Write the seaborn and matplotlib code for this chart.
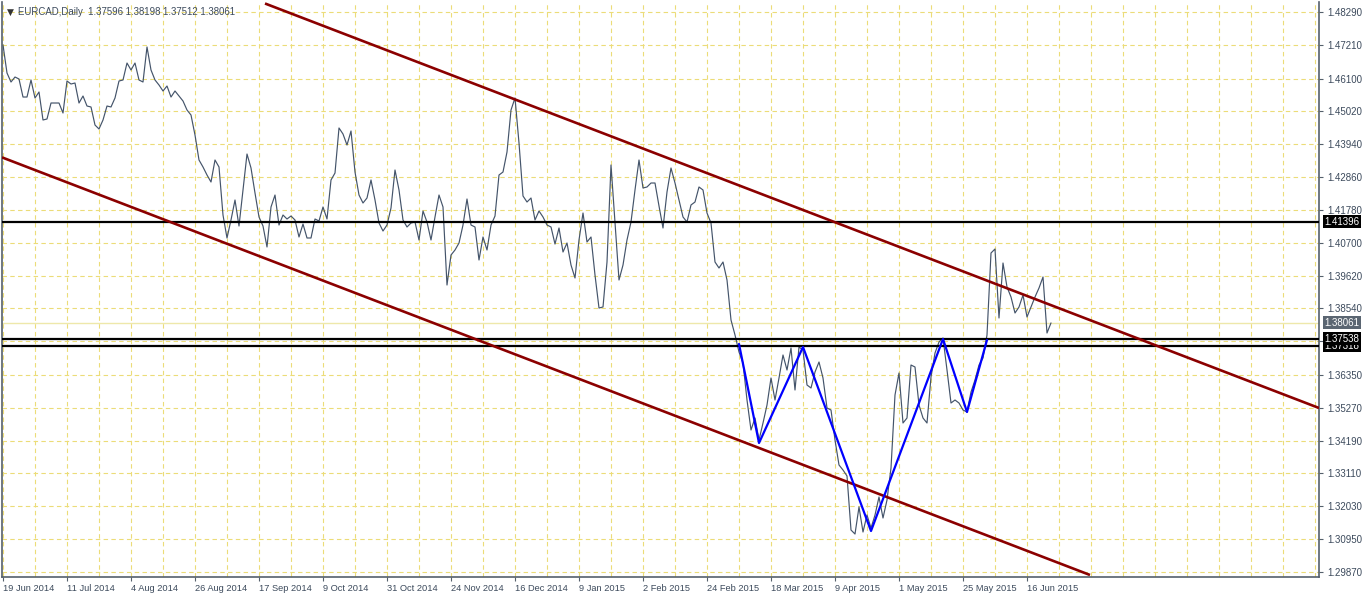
import numpy as np
import pandas as pd
import matplotlib
matplotlib.use("Agg")
import matplotlib.pyplot as plt
import seaborn as sns

# EURCAD daily closes, one per bar (MT4 style, bars are evenly spaced)
close = [
    1.47204, 1.46283, 1.45987, 1.46151, 1.46086, 1.45493, 1.45493, 1.46053, 1.45461, 1.45658,
    1.44737, 1.44770, 1.45296, 1.45296, 1.45296, 1.44967, 1.46020, 1.45921, 1.45954, 1.45296,
    1.45526, 1.45197, 1.45165, 1.44572, 1.44441, 1.44737, 1.45197, 1.45165, 1.45461, 1.46020,
    1.46053, 1.46612, 1.46382, 1.46612, 1.46053, 1.45987, 1.47139, 1.46382, 1.46053, 1.45888,
    1.45691, 1.45855, 1.45493, 1.45691, 1.45526, 1.45362, 1.45066, 1.44901, 1.44243, 1.43421,
    1.43191, 1.42927, 1.42697, 1.43421, 1.43191, 1.41611, 1.40855, 1.41447, 1.42105, 1.41249,
    1.42434, 1.43618, 1.43158, 1.42335, 1.41546, 1.41249, 1.40559, 1.41875, 1.42269, 1.41282,
    1.41611, 1.41480, 1.41578, 1.41447, 1.40888, 1.41315, 1.40855, 1.40855, 1.41480, 1.41414,
    1.41875, 1.41480, 1.42763, 1.42993, 1.44474, 1.44276, 1.43914, 1.44375, 1.43026, 1.42269,
    1.42006, 1.42171, 1.42763, 1.42105, 1.41348, 1.41085, 1.41282, 1.41842, 1.43092, 1.42434,
    1.41447, 1.41217, 1.41348, 1.41381, 1.40789, 1.41743, 1.41381, 1.40789, 1.41546, 1.42269,
    1.41875, 1.39308, 1.40295, 1.40460, 1.40690, 1.41282, 1.42138, 1.41282, 1.41217, 1.40131,
    1.40888, 1.40460, 1.41282, 1.41578, 1.42927, 1.43026, 1.43684, 1.45066, 1.45461, 1.43980,
    1.42237, 1.42039, 1.42171, 1.41447, 1.41743, 1.41546, 1.41282, 1.41217, 1.40657, 1.41184,
    1.40394, 1.40690, 1.39966, 1.39539, 1.40789, 1.41677, 1.40723, 1.40888, 1.39637, 1.38552,
    1.38585, 1.40065, 1.43256, 1.41381, 1.39473, 1.39966, 1.40789, 1.41381, 1.42434, 1.43421,
    1.42500, 1.42533, 1.42664, 1.42664, 1.41908, 1.41184, 1.42368, 1.43158, 1.42664, 1.42105,
    1.41546, 1.41381, 1.41941, 1.42039, 1.42533, 1.42434, 1.41677, 1.41348, 1.40065, 1.39868,
    1.40065, 1.39473, 1.38157, 1.37664, 1.37104, 1.36742, 1.35525, 1.34538, 1.34933, 1.34209,
    1.34768, 1.35360, 1.36249, 1.35525, 1.36249, 1.37006, 1.36512, 1.37236, 1.35854, 1.37269,
    1.37170, 1.36019, 1.35920, 1.36446, 1.36775, 1.36249, 1.35262, 1.35196, 1.34209, 1.33387,
    1.33222, 1.33025, 1.31248, 1.31116, 1.32005, 1.31182, 1.31741, 1.31314, 1.31741, 1.32334,
    1.31643, 1.32235, 1.33288, 1.35689, 1.36413, 1.34768, 1.34933, 1.36676, 1.36611, 1.35360,
    1.34933, 1.34768, 1.36282, 1.37071, 1.37433, 1.37565, 1.36512, 1.35426, 1.35525, 1.35426,
    1.35196, 1.35130, 1.35788, 1.36183, 1.36676, 1.36907, 1.37664, 1.40361, 1.40493, 1.38223,
    1.40032, 1.39243, 1.38914, 1.38387, 1.38585, 1.38979, 1.38256, 1.38585, 1.38914, 1.39210,
    1.39572, 1.37729, 1.38061,
]
bars = np.arange(len(close))

# zigzag pattern (blue)
zz_bar = [184, 189, 200, 217, 235, 241, 246]
zz_price = [1.37368, 1.34110, 1.37269, 1.31215, 1.37532, 1.35130, 1.37499]

# descending channel (dark red)
upper_bar = [65.5, 329]
upper_price = [1.48570, 1.35262]
lower_bar = [-0.25, 271.75]
lower_price = [1.43507, 1.29768]

# horizontal levels
levels = [1.41396, 1.37318, 1.37538]
bid = 1.38061

ytick_values = [1.48290, 1.47210, 1.46100, 1.45020, 1.43940, 1.42860, 1.41780, 1.40700,
                1.39620, 1.38540, 1.37460, 1.36350, 1.35270, 1.34190, 1.33110, 1.32030,
                1.30950, 1.29870]
ytick_labels = ["%.5f" % v for v in ytick_values]
ytick_labels[10] = ""  # hidden behind the level boxes

date_labels = ["19 Jun 2014", "11 Jul 2014", "4 Aug 2014", "26 Aug 2014", "17 Sep 2014",
               "9 Oct 2014", "31 Oct 2014", "24 Nov 2014", "16 Dec 2014", "9 Jan 2015",
               "2 Feb 2015", "24 Feb 2015", "18 Mar 2015", "9 Apr 2015", "1 May 2015",
               "25 May 2015", "16 Jun 2015"]

sns.set_style("white")
plt.rcParams['font.family'] = ['Liberation Sans', 'DejaVu Sans']

W, H = 1362, 594
fig = plt.figure(figsize=(W / 100, H / 100), dpi=100)
ax = fig.add_axes([2 / W, 17 / H, 1317 / W, 575 / H])

text_col = "#3c4a5c"
frame_col = "#55606c"
grid_col = "#ecdc78"

# price line
df = pd.DataFrame({"bar": bars, "close": close})
ax.axhline(bid, color="#eee8aa", lw=1.0, zorder=1)
sns.lineplot(data=df, x="bar", y="close", color="#44546a", linewidth=0.85, ax=ax, zorder=2)
for lv in levels:
    ax.axhline(lv, color="black", lw=1.6, zorder=3)
ax.plot(upper_bar, upper_price, color="#8b0000", lw=1.9, zorder=4, solid_capstyle="butt")
ax.plot(lower_bar, lower_price, color="#8b0000", lw=1.9, zorder=4, solid_capstyle="butt")
sns.lineplot(x=zz_bar, y=zz_price, color="#0000ff", linewidth=1.6, ax=ax, zorder=5, sort=False)

ax.set_xlim(-0.25, 329)
ax.set_ylim(1.29702, 1.48619)
ax.set_xlabel("")
ax.set_ylabel("")

# axes / ticks
ax.yaxis.tick_right()
ax.set_yticks(ytick_values)
ax.set_yticklabels(ytick_labels)
major_x = list(range(0, 257, 16))
ax.set_xticks(major_x)
ax.set_xticklabels(date_labels, ha="left")
ax.set_xticks([b for b in range(8, 329, 8) if b not in major_x], minor=True)
ax.tick_params(axis="y", which="major", direction="out", length=3, width=0.8,
               color=frame_col, labelsize=7, labelcolor=text_col, pad=3, right=True, left=False)
ax.tick_params(axis="x", which="major", direction="out", length=3, width=0.8,
               color=frame_col, labelsize=6.7, labelcolor=text_col, pad=2, bottom=True)
ax.tick_params(axis="x", which="minor", length=0)
ax.grid(True, which="both", axis="x", color=grid_col, linestyle=(0, (4, 3)), linewidth=0.8)
ax.grid(True, which="major", axis="y", color=grid_col, linestyle=(0, (4, 3)), linewidth=0.8)
ax.set_axisbelow(True)

for side in ["left", "right", "bottom"]:
    ax.spines[side].set_color(frame_col)
    ax.spines[side].set_linewidth(1.2)
ax.spines["top"].set_visible(False)

# price boxes on the right scale
def price_box(value, face):
    ax.annotate("%.5f" % value, xy=(1.0, value), xycoords=("axes fraction", "data"),
                xytext=(4, 0), textcoords="offset points", ha="left", va="center",
                fontsize=7, color="white", annotation_clip=False, zorder=10,
                bbox=dict(boxstyle="square,pad=0.15", fc=face, ec="none"))

price_box(bid, "#5b6672")
for lv in levels:
    price_box(lv, "black")

# title
fig.text(7 / W, 1 - 12 / H, "\u25bc", fontsize=6.5, color="#333333", va="center",
         family="DejaVu Sans")
fig.text(18 / W, 1 - 12 / H, "EURCAD,Daily  1.37596 1.38198 1.37512 1.38061",
         fontsize=6.9, color=text_col, va="center")

fig.savefig("out.png", dpi=100)
